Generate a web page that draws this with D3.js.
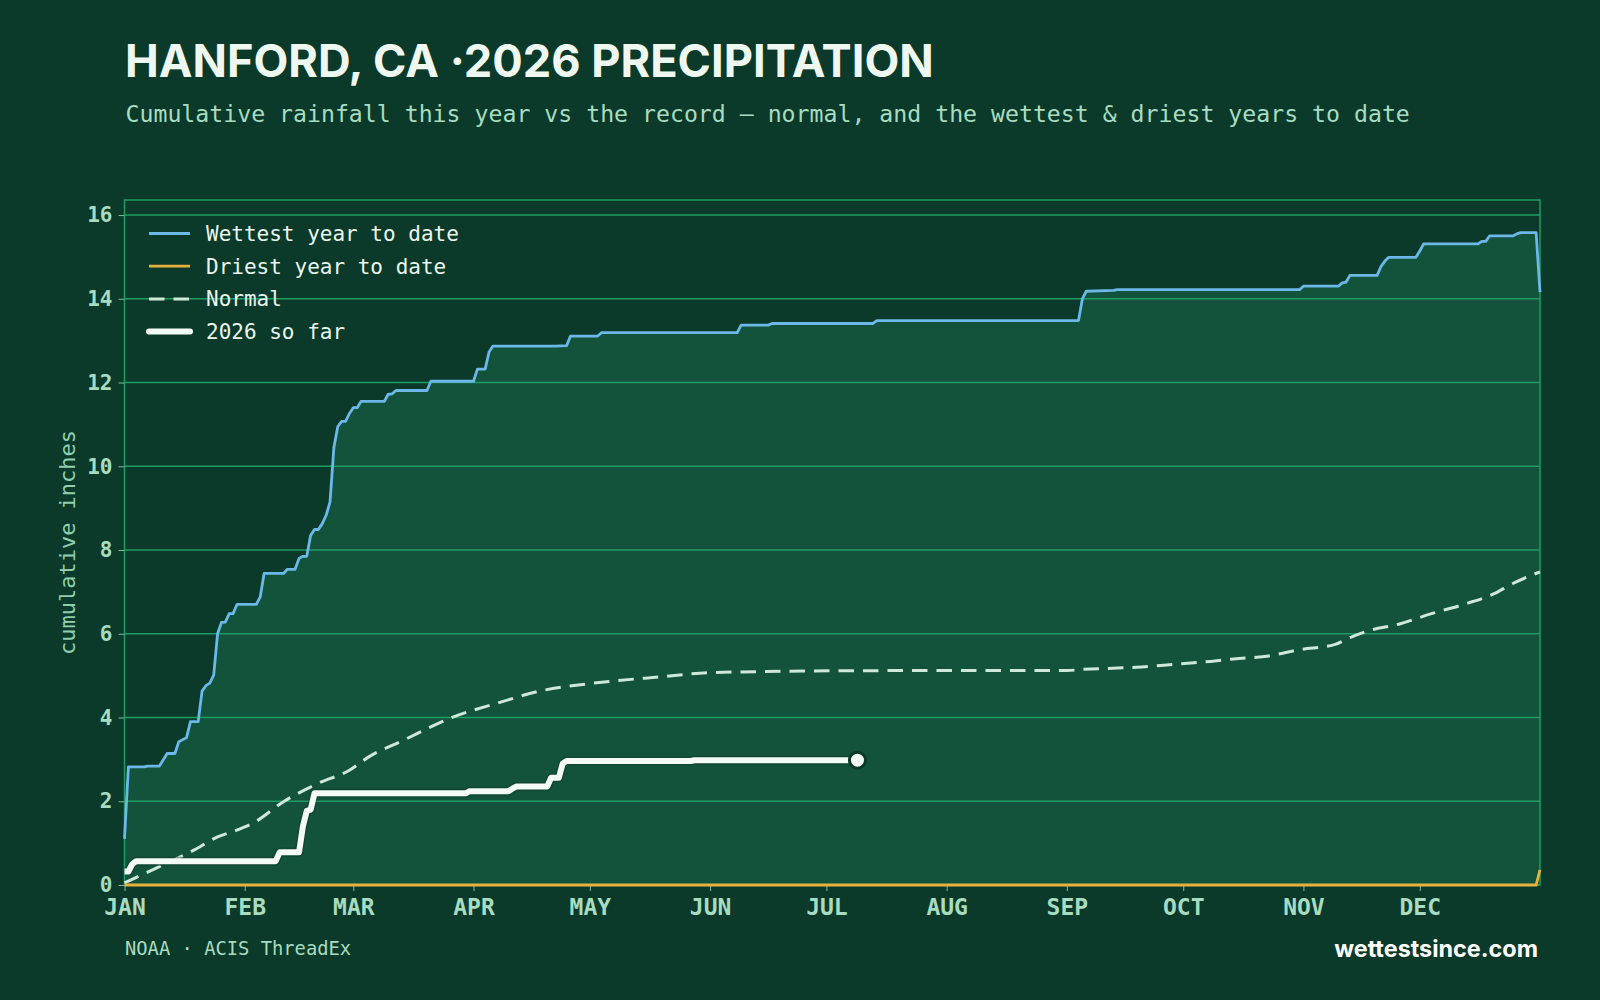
<!DOCTYPE html>
<html>
<head>
<meta charset="utf-8">
<script src="https://cdnjs.cloudflare.com/ajax/libs/d3/7.8.5/d3.min.js"></script>
<style>
  body { margin: 0; background: #0b3a2a; }
  svg { display: block; }
</style>
</head>
<body>
<svg id="chart" width="1600" height="1000"></svg>
<script>
// day of year (0 = Jan 1), cumulative inches
var wettest = [[0,1.10],[1,2.82],[5,2.82],[6,2.84],[9,2.84],[11,3.14],[13,3.14],[14,3.42],[16,3.52],[17,3.90],[19,3.90],
  [20,4.63],[21,4.76],[22,4.82],[23,5.01],[24,6.00],[25,6.27],[26,6.28],[27,6.48],[28,6.48],[29,6.70],[34,6.70],
  [35,6.88],[36,7.44],[41,7.44],[42,7.54],[44,7.54],[45,7.80],[46,7.85],[47,7.85],[48,8.35],[49,8.49],[50,8.49],
  [51,8.63],[52,8.83],[53,9.15],[54,10.45],[55,10.95],[56,11.07],[57,11.07],[58,11.26],[59,11.40],[60,11.40],
  [61,11.55],[67,11.55],[68,11.72],[69,11.73],[70,11.81],[78,11.81],[79,12.03],[90,12.03],[91,12.32],[93,12.32],
  [94,12.73],[95,12.87],[111,12.87],[114,12.88],[115,13.11],[122,13.11],[123,13.19],[158,13.19],[159,13.37],
  [166,13.37],[167,13.41],[193,13.41],[194,13.48],[246,13.48],[247,14.00],[248,14.18],[255,14.20],[256,14.22],
  [303,14.22],[304,14.30],[313,14.30],[314,14.38],[315,14.40],[316,14.56],[323,14.56],[324,14.77],[325,14.90],
  [326,14.99],[333,14.99],[334,15.14],[335,15.31],[349,15.31],[350,15.37],[351,15.37],[352,15.50],[358,15.50],
  [359,15.55],[360,15.58],[364,15.58],[365,14.16]];

var driest = [[0,0],[364,0],[365,0.36]];

var normal = [[0,0.05],[9,0.44],[18,0.84],[24,1.15],[29,1.31],[33,1.47],[41,1.99],[50,2.43],[58,2.74],[63,3.06],
  [72,3.46],[85,4.02],[96,4.34],[108,4.65],[120,4.81],[138,4.97],[151,5.07],[177,5.11],[199,5.12],[243,5.12],
  [247,5.15],[256,5.18],[261,5.20],[268,5.25],[275,5.30],[280,5.34],[286,5.40],[295,5.47],[303,5.62],[312,5.74],
  [316,5.91],[320,6.05],[329,6.24],[337,6.48],[346,6.72],[353,6.95],[358,7.20],[365,7.48]];

var thisYear = [[0,0.32],[1,0.32],[2,0.50],[3,0.57],[39,0.57],[40,0.78],[45,0.78],[46,1.40],[47,1.77],[48,1.80],
  [49,2.19],[88,2.19],[89,2.24],[99,2.24],[100,2.30],[101,2.35],[109,2.35],[110,2.56],[112,2.56],[113,2.90],
  [114,2.96],[146,2.96],[147,2.98],[189,2.98]];

var monthLabels = ["JAN","FEB","MAR","APR","MAY","JUN","JUL","AUG","SEP","OCT","NOV","DEC"];
var yTicks = [0,2,4,6,8,10,12,14,16];
var legendItems = ["Wettest year to date","Driest year to date","Normal","2026 so far"];

var svg = d3.select("#chart");
var W = 1600, H = 1000;
var plotL = 124.5, plotR = 1540, plotT = 200, plotB = 885;

var BG = "#0b3a2a", FILL = "#13523b", GRID = "#1f9c63", LABEL = "#a8dcc0";
var MONO = "'DejaVu Sans Mono', monospace", SANS = "Inter, 'Open Sans', sans-serif";

svg.append("rect").attr("width", W).attr("height", H).attr("fill", BG);

var day = function(d){ return new Date(2026, 0, 1 + d); };
var x = d3.scaleTime().domain([day(0), day(365)]).range([plotL, plotR]);
var y = d3.scaleLinear().domain([0, d3.max(wettest, function(d){return d[1];}) * 1.05]).range([plotB, plotT]);

function driestAt(d){
  for (var i = 1; i < driest.length; i++) {
    if (d <= driest[i][0]) {
      var a = driest[i-1], b = driest[i];
      return a[1] + (b[1]-a[1]) * (d - a[0]) / (b[0] - a[0]);
    }
  }
  return driest[driest.length-1][1];
}

// band between driest and wettest
var band = d3.area()
  .x(function(d){ return x(day(d[0])); })
  .y0(function(d){ return y(driestAt(d[0])); })
  .y1(function(d){ return y(d[1]); });
svg.append("path").datum(wettest).attr("d", band).attr("fill", FILL);

// grid
svg.append("g").selectAll("line").data(yTicks).enter().append("line")
  .attr("x1", plotL).attr("x2", plotR)
  .attr("y1", function(d){ return y(d); }).attr("y2", function(d){ return y(d); })
  .attr("stroke", GRID).attr("stroke-width", 1.5);
svg.append("rect").attr("x", plotL).attr("y", plotT).attr("width", plotR-plotL).attr("height", plotB-plotT)
  .attr("fill", "none").attr("stroke", GRID).attr("stroke-width", 1.5);

// axes
var yAxis = svg.append("g").attr("transform", "translate(" + plotL + ",0)")
  .call(d3.axisLeft(y).tickValues(yTicks).tickFormat(d3.format("d")).tickSize(6).tickPadding(6));
var monthStarts = d3.range(12).map(function(m){ return new Date(2026, m, 1); });
var xAxis = svg.append("g").attr("transform", "translate(0," + plotB + ")")
  .call(d3.axisBottom(x).tickValues(monthStarts).tickFormat(function(d,i){ return monthLabels[i]; }).tickSize(6).tickPadding(8));
[yAxis, xAxis].forEach(function(g){
  g.select(".domain").remove();
  g.selectAll(".tick line").attr("stroke", "#7fb89c").attr("stroke-width", 1);
  g.selectAll(".tick text").attr("fill", LABEL).attr("font-family", MONO).attr("font-weight", "bold");
});
yAxis.selectAll(".tick text").attr("font-size", 21);
xAxis.selectAll(".tick text").attr("font-size", 23);

// series
var line = d3.line().x(function(d){ return x(day(d[0])); }).y(function(d){ return y(d[1]); });

svg.append("path").datum(normal)
  .attr("d", line.curve(d3.curveMonotoneX))
  .attr("fill", "none").attr("stroke", "#cfe8da").attr("stroke-width", 3).attr("stroke-dasharray", "15.5,9");
line.curve(d3.curveLinear);

svg.append("path").datum(wettest).attr("d", line)
  .attr("fill", "none").attr("stroke", "#6cb8e8").attr("stroke-width", 2.8).attr("stroke-linejoin", "round");

svg.append("path").datum(driest).attr("d", line)
  .attr("fill", "none").attr("stroke", "#e8b13e").attr("stroke-width", 2.8);

svg.append("path").datum(thisYear).attr("d", line)
  .attr("fill", "none").attr("stroke", BG).attr("stroke-opacity", 0.45).attr("stroke-width", 9).attr("stroke-linejoin", "round");
svg.append("path").datum(thisYear).attr("d", line)
  .attr("fill", "none").attr("stroke", "#f4faf6").attr("stroke-width", 6).attr("stroke-linejoin", "round");

var last = thisYear[thisYear.length-1];
svg.append("circle").attr("cx", x(day(last[0]))).attr("cy", y(last[1])).attr("r", 8)
  .attr("fill", "#f4faf6").attr("stroke", BG).attr("stroke-width", 3);

// legend
var legendStyles = [
  {stroke: "#6cb8e8", w: 2.8, dash: null},
  {stroke: "#e8b13e", w: 2.8, dash: null},
  {stroke: "#cfe8da", w: 3, dash: "15.5,9"},
  {stroke: "#f4faf6", w: 6, dash: null}
];
var lg = svg.append("g").selectAll("g").data(legendItems).enter().append("g")
  .attr("transform", function(d,i){ return "translate(0," + (233.5 + i*32.7) + ")"; });
lg.append("line").attr("x1", 149).attr("x2", 190)
  .attr("stroke", function(d,i){ return legendStyles[i].stroke; })
  .attr("stroke-width", function(d,i){ return legendStyles[i].w; })
  .attr("stroke-linecap", function(d,i){ return i === 3 ? "round" : "butt"; })
  .attr("stroke-dasharray", function(d,i){ return legendStyles[i].dash; });
lg.append("text").attr("x", 206).attr("y", 7.5).text(function(d){ return d; })
  .attr("fill", "#eaf6ee").attr("font-family", MONO).attr("font-size", 21);

// titles
var title = svg.append("text").attr("x", 125).attr("y", 77)
  .attr("fill", "#eef8f1").attr("font-family", SANS).attr("font-weight", 700).attr("font-size", 46)
  .text("HANFORD, CA ·2026 PRECIPITATION");
var tw = title.node().getComputedTextLength();
title.attr("font-size", 46 * 809 / tw);

svg.append("text").attr("x", 125.5).attr("y", 122)
  .attr("fill", LABEL).attr("font-family", MONO).attr("font-size", 23.2)
  .text("Cumulative rainfall this year vs the record \u2014 normal, and the wettest & driest years to date");

svg.append("text").attr("transform", "translate(75," + ((plotT+plotB)/2) + ") rotate(-90)")
  .attr("text-anchor", "middle").attr("fill", "#8fcfae").attr("font-family", MONO).attr("font-size", 22)
  .text("cumulative inches");

svg.append("text").attr("x", 125).attr("y", 955)
  .attr("fill", LABEL).attr("font-family", MONO).attr("font-size", 18.8)
  .text("NOAA \u00b7 ACIS ThreadEx");

var site = svg.append("text").attr("x", 1538).attr("y", 957).attr("text-anchor", "end")
  .attr("fill", "#ffffff").attr("font-family", SANS).attr("font-weight", 700).attr("font-size", 24)
  .text("wettestsince.com");
var sw = site.node().getComputedTextLength();
site.attr("font-size", 24 * 204 / sw);
</script>
</body>
</html>
